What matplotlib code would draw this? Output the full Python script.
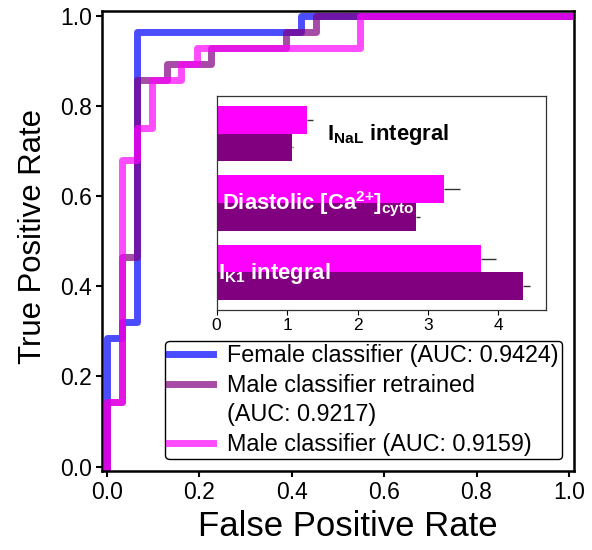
import matplotlib
matplotlib.use("Agg")
import matplotlib.pyplot as plt
from matplotlib import font_manager
from matplotlib.lines import Line2D
import numpy as np

# ---- ROC data ----
fpr_female = [0, 0, 0.032, 0.032, 0.065, 0.065, 0.419, 0.419, 1.0]
tpr_female = [0, 0.286, 0.286, 0.321, 0.321, 0.964, 0.964, 1.0, 1.0]

fpr_retrained = [0, 0, 0.032, 0.032, 0.065, 0.065, 0.129, 0.129, 0.226, 0.226, 0.387, 0.387, 0.452, 0.452, 1.0]
tpr_retrained = [0, 0.143, 0.143, 0.464, 0.464, 0.857, 0.857, 0.893, 0.893, 0.929, 0.929, 0.964, 0.964, 1.0, 1.0]

fpr_male = [0, 0, 0.032, 0.032, 0.065, 0.065, 0.097, 0.097, 0.161, 0.161, 0.194, 0.194, 0.548, 0.548, 1.0]
tpr_male = [0, 0.143, 0.143, 0.679, 0.679, 0.75, 0.75, 0.857, 0.857, 0.893, 0.893, 0.929, 0.929, 1.0, 1.0]

roc_labels = ["Female classifier (AUC: 0.9424)",
              "Male classifier retrained",
              "Male classifier (AUC: 0.9159)"]
retrained_auc_line = "(AUC: 0.9217)"
roc_colors = ["#0000ff", "#800080", "#ff00ff"]

# ---- inset bar data ----
features = ["I$_{\\mathregular{K1}}$ integral",
            "Diastolic [Ca$^{\\mathregular{2{+}}}$]$_{\\mathregular{cyto}}$",
            "I$_{\\mathregular{NaL}}$ integral"]
male_vals = [3.75, 3.23, 1.28]
male_err = [0.22, 0.23, 0.09]
retrained_vals = [4.35, 2.83, 1.07]
retrained_err = [0.10, 0.06, 0.02]
label_colors = ["white", "white", "black"]
label_x = [0.02, 0.07, 1.56]

plt.rcParams['font.family'] = ['Liberation Sans', 'DejaVu Sans']

names = {f.name for f in font_manager.fontManager.ttflist}
if 'Liberation Sans Narrow' in names:
    bar_font = ['Liberation Sans Narrow', 'Liberation Sans', 'DejaVu Sans']
    bar_fs = 18.5
else:
    bar_font = ['Liberation Sans', 'DejaVu Sans']
    bar_fs = 15.8

fig = plt.figure(figsize=(5.92, 5.5), dpi=100)
ax = fig.add_axes([0.1723, 0.1436, 0.7973, 0.8364])

lines = []
for fx, ty, lab, col in zip([fpr_female, fpr_retrained, fpr_male],
                            [tpr_female, tpr_retrained, tpr_male],
                            roc_labels, roc_colors):
    ln, = ax.plot(fx, ty, color=col, alpha=0.7, lw=5, label=lab)
    lines.append(ln)

ax.set_xlim(-0.011, 1.011)
ax.set_ylim(-0.01, 1.01)
ax.set_xticks(np.arange(0, 1.01, 0.2))
ax.set_yticks(np.arange(0, 1.01, 0.2))
ax.tick_params(labelsize=16.5, width=1.5, length=4, pad=3)
for s in ax.spines.values():
    s.set_linewidth(1.8)
ax.set_xlabel("False Positive Rate", fontsize=25)
ax.set_ylabel("True Positive Rate", fontsize=22.4)
ax.xaxis.set_label_coords(0.52, -0.085)
ax.yaxis.set_label_coords(-0.114, 0.51)

blank = Line2D([], [], color="none", lw=0)
handles = [lines[0], lines[1], blank, lines[2]]
labels = [roc_labels[0], roc_labels[1], retrained_auc_line, roc_labels[2]]
leg = ax.legend(handles, labels, loc="lower right", fontsize=16.8,
                handlelength=1.9, handletextpad=0.6, labelspacing=0.28,
                borderpad=0.15, framealpha=1, edgecolor="black",
                borderaxespad=0.5)
leg.get_frame().set_linewidth(1.0)

# ---- inset ----
ins = fig.add_axes([0.366, 0.4364, 0.556, 0.389])
y = np.arange(len(features))
h = 0.4
ins.barh(y + h / 2, male_vals, height=h, color="#ff00ff")
ins.barh(y - h / 2, retrained_vals, height=h, color="#800080")
ins.errorbar(male_vals, y + h / 2, xerr=[np.zeros(3), male_err], fmt="none",
             ecolor="#333333", elinewidth=1, capsize=0)
ins.errorbar(retrained_vals, y - h / 2, xerr=[np.zeros(3), retrained_err],
             fmt="none", ecolor="#333333", elinewidth=1, capsize=0)
ins.set_yticks([])
ins.tick_params(axis="x", labelsize=12.5, length=3.5, width=0.8, pad=2)
for s in ins.spines.values():
    s.set_linewidth(0.9)
    s.set_color("#333333")
for yi, lab, c, lx in zip(y, features, label_colors, label_x):
    ins.text(lx, yi - 0.09, lab, color=c, fontsize=bar_fs, fontweight="bold",
             family=bar_font, va="baseline", ha="left")

fig.savefig("out.png", dpi=100)
